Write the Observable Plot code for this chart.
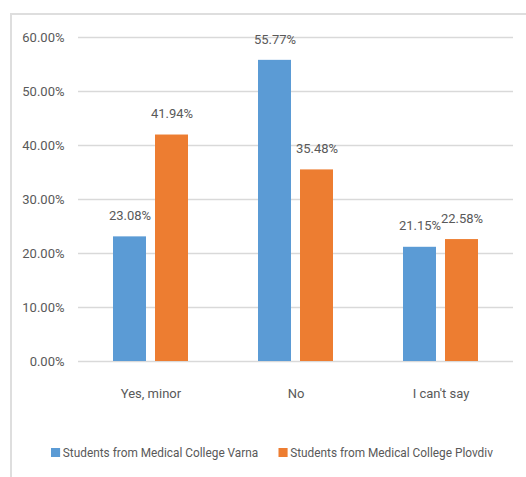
<!DOCTYPE html>
<html>
<head>
<meta charset="utf-8">
<script src="https://cdn.jsdelivr.net/npm/d3@7"></script>
<script src="https://cdn.jsdelivr.net/npm/@observablehq/plot@0.6"></script>
<style>
  html, body { margin: 0; padding: 0; background: #fff; }
  body { width: 526px; height: 477px; position: relative; overflow: hidden; font-family: Roboto, sans-serif; }
  #frame { position: absolute; left: 10px; top: 13px; width: 700px; height: 700px; border-left: 2px solid #dedede; border-top: 2px solid #dedede; }
  #chart { position: absolute; left: 0; top: 0; }
  #legend { position: absolute; left: 51px; top: 445px; display: flex; align-items: center; font-size: 13px; color: #595959; white-space: nowrap; transform: scaleX(0.91); transform-origin: left center; }
  .item { display: flex; align-items: center; margin-right: 22px; }
  .sw { width: 10px; height: 9px; margin-right: 3px; }
</style>
</head>
<body>
<div id="frame"></div>
<div id="chart"></div>
<div id="legend"></div>
<script>
const categories = ["Yes, minor", "No", "I can't say"];
const seriesNames = ["Students from Medical College Varna", "Students from Medical College Plovdiv"];
const varna = [0.2308, 0.5577, 0.2115];
const plovdiv = [0.4194, 0.3548, 0.2258];
const yTicks = [0, 0.1, 0.2, 0.3, 0.4, 0.5, 0.6];
const colors = ["#5b9bd5", "#ed7d31"];

const fmt = d3.format(".2%");
const dVarna = categories.map((c, i) => ({category: c, value: varna[i]}));
const dPlovdiv = categories.map((c, i) => ({category: c, value: plovdiv[i]}));

const chart = Plot.plot({
  width: 526,
  height: 420,
  marginLeft: 78,
  marginRight: 13,
  marginTop: 37,
  marginBottom: 59,
  style: {fontFamily: "Roboto, sans-serif", fontSize: "13px", color: "#595959", background: "transparent", overflow: "visible"},
  x: {domain: categories, paddingInner: 0.483, paddingOuter: 0.2415, label: null},
  y: {domain: [0, 0.6], label: null},
  marks: [
    Plot.gridY(yTicks, {stroke: "#d9d9d9", strokeOpacity: 1, strokeWidth: 1.3}),
    Plot.axisY(yTicks, {tickSize: 0, tickPadding: 14, tickFormat: fmt, label: null, fontSize: 13, fill: "#595959"}),
    Plot.axisX({tickSize: 0, tickPadding: 27, label: null, fontSize: 13, fill: "#595959"}),
    Plot.barY(dVarna, {x: "category", y: "value", fill: colors[0], insetRight: 42}),
    Plot.barY(dPlovdiv, {x: "category", y: "value", fill: colors[1], insetLeft: 42}),
    Plot.text(dVarna, {x: "category", y: "value", text: d => fmt(d.value), dx: -21, dy: -21, fill: "#595959", fontSize: 13}),
    Plot.text(dPlovdiv, {x: "category", y: "value", text: d => fmt(d.value), dx: 21, dy: -21, fill: "#595959", fontSize: 13})
  ]
});
document.getElementById("chart").appendChild(chart);

const legend = document.getElementById("legend");
seriesNames.forEach((s, i) => {
  const item = document.createElement("div");
  item.className = "item";
  const sw = document.createElement("div");
  sw.className = "sw";
  sw.style.background = colors[i];
  const t = document.createElement("span");
  t.textContent = s;
  item.appendChild(sw);
  item.appendChild(t);
  legend.appendChild(item);
});
</script>
</body>
</html>
